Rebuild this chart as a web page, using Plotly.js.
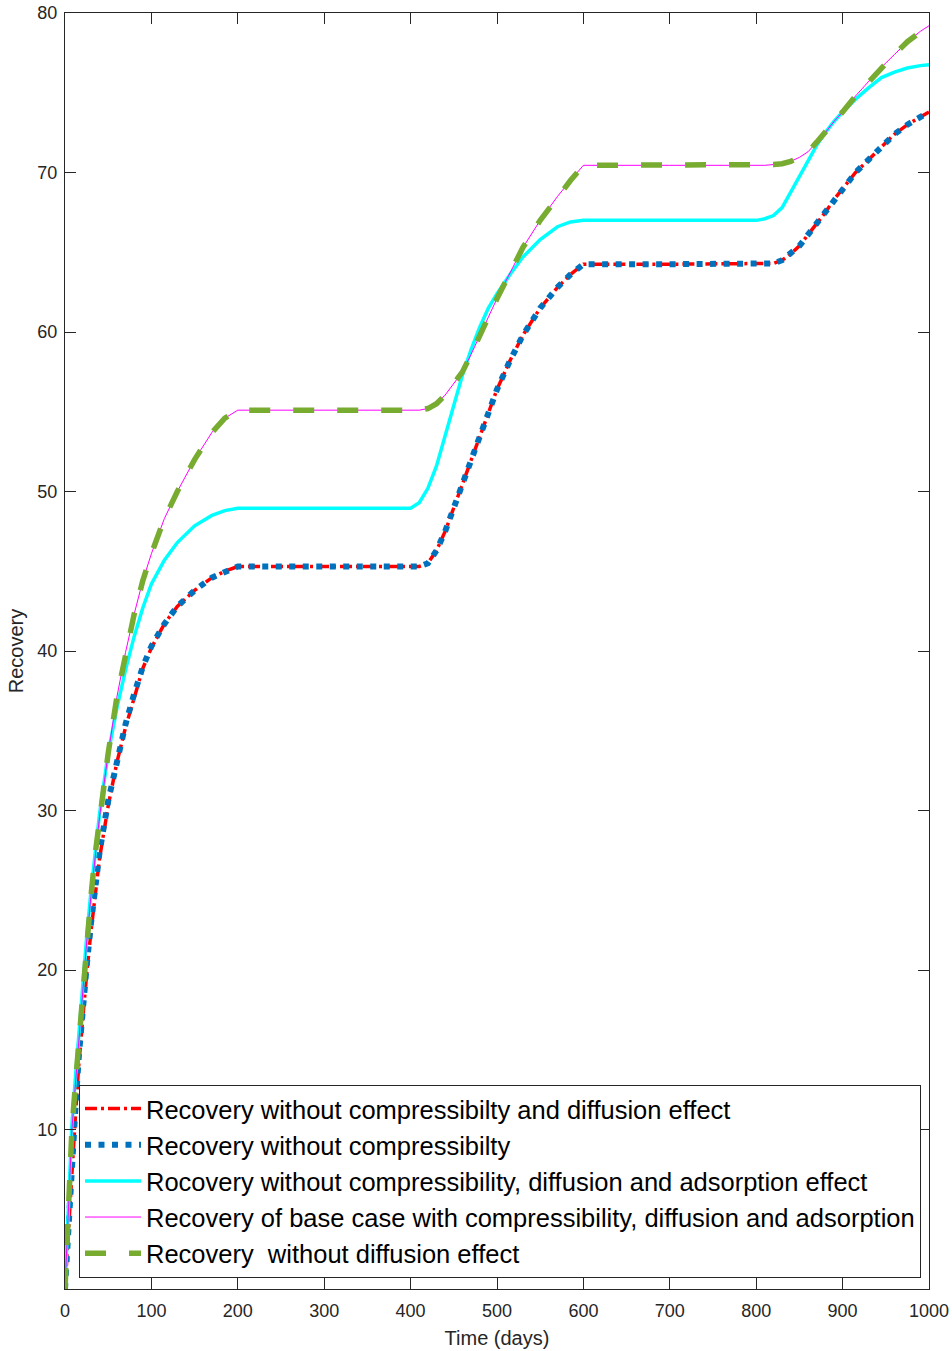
<!DOCTYPE html>
<html>
<head>
<meta charset="utf-8">
<script src="https://cdn.plot.ly/plotly-3.0.1.min.js"></script>
<style>html,body{margin:0;padding:0;background:#fff;}#chart{width:952px;height:1351px;}</style>
</head>
<body>
<div id="chart"></div>
<script>
// Time (days)
const time = [0,4,8,12,16,20,25,30,35,40,
  50,60,70,80,90,100,115,130,150,170,
  185,200,300,400,410,420,430,440,450,460,
  470,480,490,500,515,530,550,570,585,600,
  700,800,810,820,830,840,850,860,870,880,
  890,900,915,930,945,960,975,990,1000];

// Recovery without compressibilty and diffusion effect (red dash-dot)
const recNoCompNoDiff = [0,3.8,7.5,10.8,14.1,16.9,19.7,22.4,24.8,27.0,
  30.3,33.0,35.2,37.1,38.9,40.2,41.7,42.8,43.8,44.6,
  45.0,45.3,45.3,45.3,45.3,45.5,46.3,47.5,49.0,50.5,
  52.0,53.5,55.0,56.4,58.2,59.8,61.5,62.8,63.6,64.25,
  64.25,64.25,64.25,64.3,64.5,64.9,65.4,66.1,66.8,67.5,
  68.3,69.0,70.0,70.8,71.6,72.4,73.0,73.45,73.8];

// Recovery without compressibilty (blue dotted)
const recNoComp = [0,4.2,8.0,11.3,14.6,17.4,20.2,22.9,25.3,27.4,
  30.6,33.2,35.4,37.3,39.0,40.3,41.7,42.8,43.8,44.6,
  45.0,45.3,45.3,45.3,45.3,45.5,46.3,47.5,49.0,50.5,
  52.0,53.5,55.0,56.4,58.2,59.8,61.5,62.8,63.6,64.25,
  64.25,64.25,64.25,64.3,64.5,64.9,65.4,66.1,66.8,67.5,
  68.3,69.0,70.0,70.8,71.6,72.4,73.0,73.45,73.8];

// Rocovery without compressibility, diffusion and adsorption effect (cyan)
const recNoCompDiffAds = [0,5.6,10.3,13.2,16.0,18.8,22.0,24.9,27.5,29.8,
  33.6,36.4,38.8,40.9,42.7,44.2,45.7,46.8,47.85,48.5,
  48.8,48.95,48.95,48.95,49.3,50.2,51.6,53.5,55.4,57.3,
  58.9,60.3,61.5,62.4,63.6,64.7,65.8,66.6,66.9,67.0,
  67.0,67.0,67.1,67.3,67.8,68.8,69.8,70.8,71.7,72.5,
  73.2,73.8,74.6,75.3,75.95,76.3,76.55,76.7,76.75];

// Recovery of base case (magenta) and without diffusion (green dashed)
const recBase = [0,5.4,10.0,12.8,15.6,18.5,21.7,24.6,27.3,29.6,
  33.6,37.1,39.9,42.3,44.4,46.1,48.3,50.0,52.0,53.7,
  54.6,55.1,55.1,55.1,55.1,55.2,55.5,56.05,56.8,57.5,
  58.6,59.8,61.0,62.1,63.7,65.3,67.0,68.5,69.5,70.45,
  70.45,70.45,70.45,70.5,70.55,70.7,70.95,71.3,71.9,72.5,
  73.2,73.8,74.8,75.7,76.6,77.4,78.2,78.85,79.2];
const recNoDiff = recBase.slice();

const xTicks = [0,100,200,300,400,500,600,700,800,900,1000];
const yTicks = [10,20,30,40,50,60,70,80];

const names = [
  'Recovery without compressibilty and diffusion effect',
  'Recovery without compressibilty',
  'Rocovery without compressibility, diffusion and adsorption effect',
  'Recovery of base case with compressibility, diffusion and adsorption',
  'Recovery\u00a0 without diffusion effect'
];

const traces = [
  {x: time, y: recNoCompNoDiff, name: names[0], mode: 'lines',
   line: {color: '#FF0000', width: 3.5, dash: '12px,4px,3px,4px'}},
  {x: time, y: recNoComp, name: names[1], mode: 'lines',
   line: {color: '#0072BD', width: 6, dash: '6px,7.5px'}},
  {x: time, y: recNoCompDiffAds, name: names[2], mode: 'lines',
   line: {color: '#00FFFF', width: 3.5}},
  {x: time, y: recBase, name: names[3], mode: 'lines',
   line: {color: '#FF00FF', width: 1}},
  {x: time, y: recNoDiff, name: names[4], mode: 'lines',
   line: {color: '#77AC30', width: 5.5, dash: '21px,23px'}}
];

const axisCommon = {
  showline: true, linecolor: '#262626', linewidth: 1, mirror: 'ticks',
  ticks: 'inside', ticklen: 11, tickwidth: 1, tickcolor: '#262626',
  showgrid: false, zeroline: false,
  tickfont: {family: 'Liberation Sans, Arial, sans-serif', size: 18, color: '#262626'}
};

const layout = {
  width: 952, height: 1351,
  margin: {l: 65, r: 23, t: 13, b: 62},
  paper_bgcolor: '#ffffff', plot_bgcolor: '#ffffff',
  font: {family: 'Liberation Sans, Arial, sans-serif', color: '#262626'},
  showlegend: true,
  xaxis: Object.assign({}, axisCommon, {
    range: [0, 1000], tickvals: xTicks, ticktext: xTicks.map(String),
    ticklabelstandoff: 5,
    title: {text: 'Time (days)', font: {size: 20, color: '#262626'}, standoff: 11}
  }),
  yaxis: Object.assign({}, axisCommon, {
    range: [0, 80], tickvals: yTicks, ticktext: yTicks.map(String),
    ticklabelstandoff: 3,
    title: {text: 'Recovery', font: {size: 20, color: '#262626'}, standoff: 8}
  }),
  legend: {
    x: 0.0162, y: 0.009, xanchor: 'left', yanchor: 'bottom',
    bgcolor: '#ffffff', bordercolor: '#262626', borderwidth: 1,
    font: {family: 'Liberation Sans, Arial, sans-serif', size: 25.5, color: '#000000'},
    itemwidth: 56, tracegroupgap: 0
  }
};

Plotly.newPlot('chart', traces, layout, {staticPlot: true, displayModeBar: false});
</script>
</body>
</html>
